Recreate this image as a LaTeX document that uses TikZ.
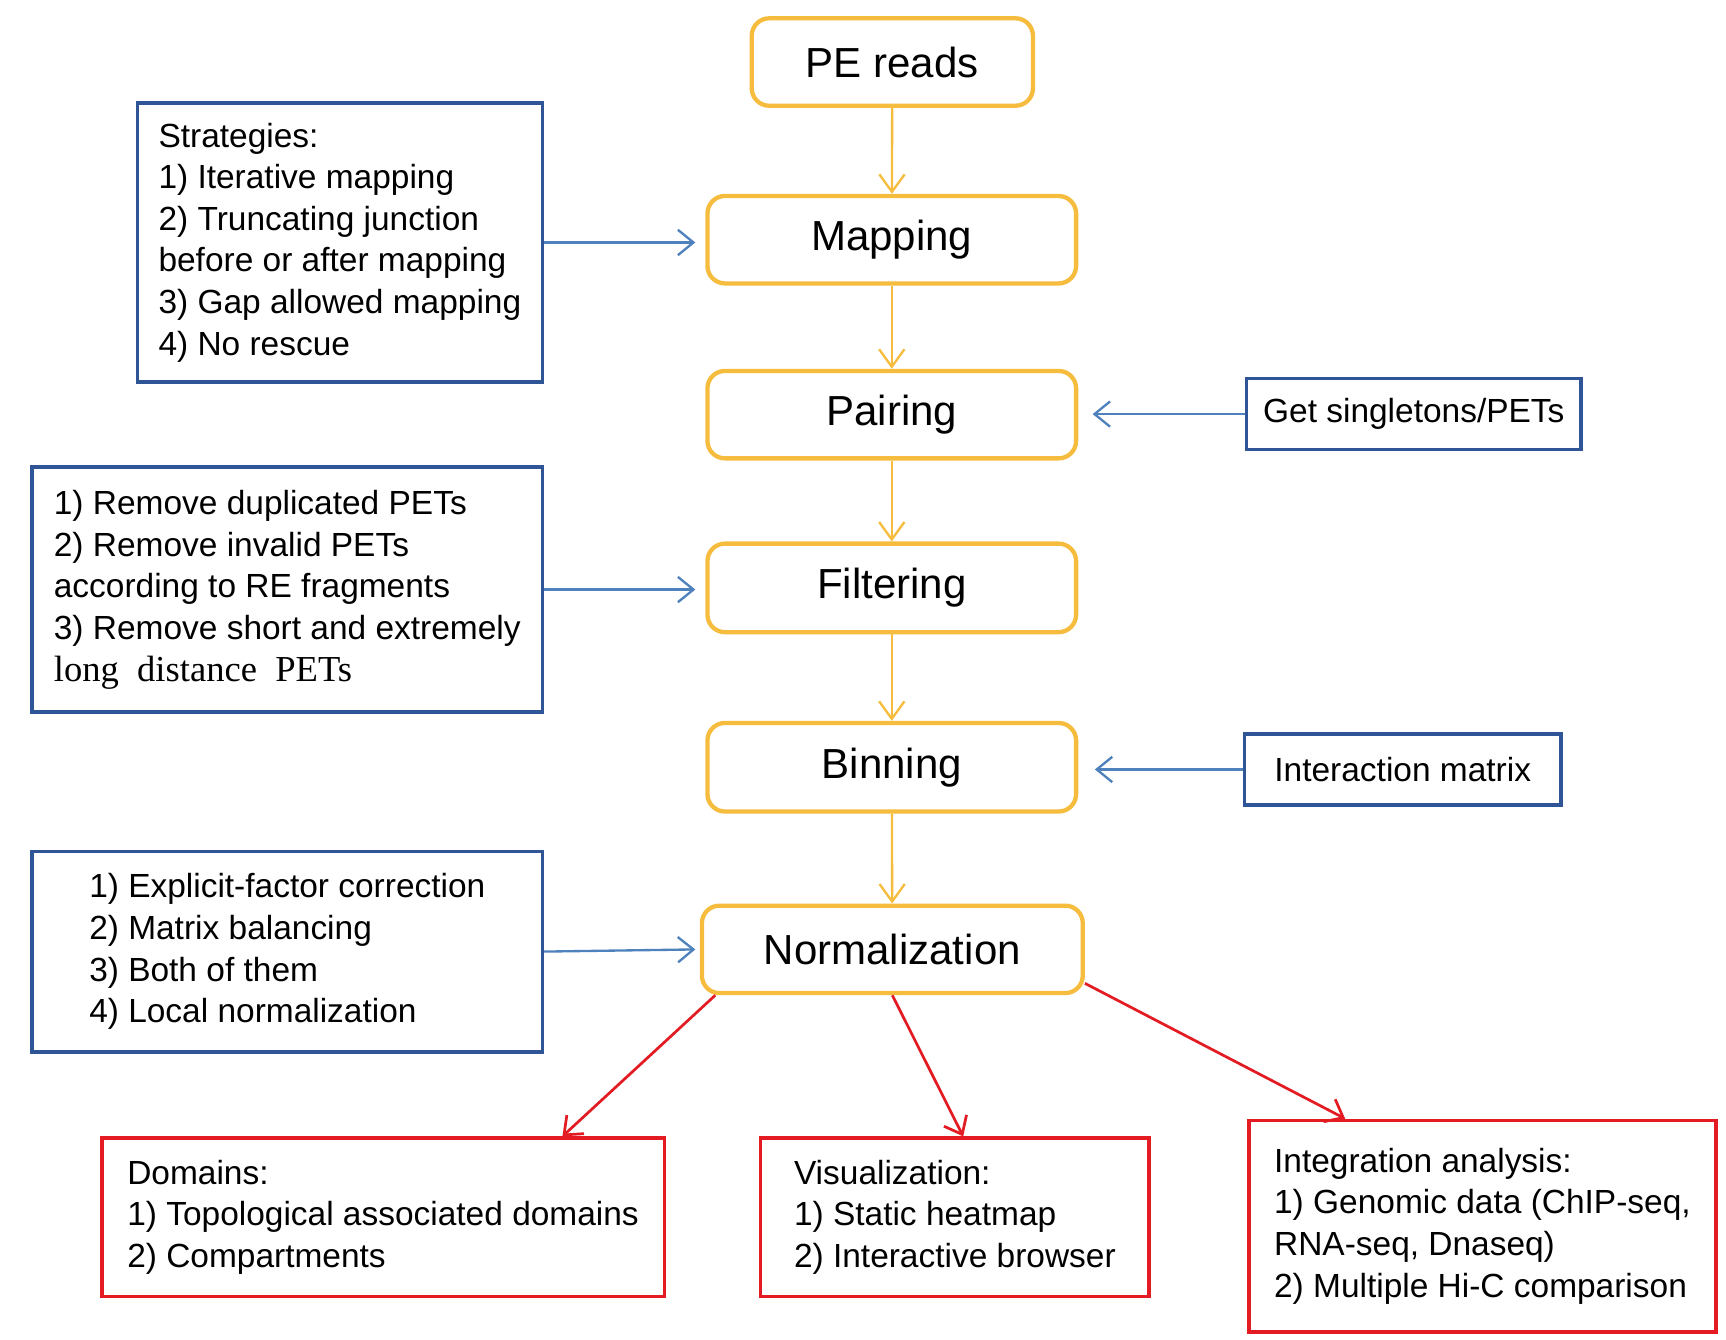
\documentclass[tikz,border=0pt]{standalone}
\usepackage{fontspec}
\setmainfont{Liberation Sans}
\newfontfamily\pairserif{Liberation Serif}
\usetikzlibrary{arrows.meta}

\newlength{\du}
\setlength{\du}{0.1mm}

\definecolor{flowyellow}{RGB}{245,188,62}
\definecolor{notebluebox}{RGB}{47,85,151}
\definecolor{noteblue}{RGB}{79,129,189}
\definecolor{resultred}{RGB}{227,28,36}

\tikzset{
  stepbox/.style={draw=flowyellow, line width=1.1pt, rounded corners=4.5pt,
    inner sep=0pt, font=\fontsize{10.8}{13}\selectfont},
  notebox/.style={draw=notebluebox, line width=0.9pt, inner sep=0pt,
    align=left, font=\fontsize{8.6}{10.7}\selectfont},
  resultbox/.style={draw=resultred, line width=0.9pt, inner sep=0pt,
    align=left, font=\fontsize{8.6}{10.7}\selectfont},
  flowline/.style={draw=flowyellow, line width=0.6pt,
    -{Straight Barb[length=4.5pt,width=6.5pt]}},
  noteline/.style={draw=noteblue, line width=0.6pt,
    -{Straight Barb[length=4pt,width=6.5pt]}},
  resultline/.style={draw=resultred, line width=0.7pt,
    -{Straight Barb[length=4pt,width=6.5pt]}}
}

\begin{document}
\begin{tikzpicture}
\pgftransformxscale{1.000000}
\pgftransformyscale{-1.000000}
\useasboundingbox (0\du,0\du) rectangle (1559\du,1210\du);

% main pipeline
\node[stepbox, minimum width=254\du, minimum height=79\du] (pe) at (806\du,56\du) {PE reads};
\node[stepbox, minimum width=333\du, minimum height=79\du] (map) at (805.5\du,216.5\du) {Mapping};
\node[stepbox, minimum width=333\du, minimum height=79\du] (pair) at (805.5\du,374.5\du) {Pairing};
\node[stepbox, minimum width=333\du, minimum height=80\du] (filter) at (805.5\du,531\du) {Filtering};
\node[stepbox, minimum width=333\du, minimum height=80\du] (bin) at (805.5\du,693\du) {Binning};
\node[stepbox, minimum width=344\du, minimum height=79\du] (norm) at (806\du,857.5\du) {Normalization};

\draw[flowline] (pe) -- (map);
\draw[flowline] (map) -- (pair);
\draw[flowline] (pair) -- (filter);
\draw[flowline] (filter) -- (bin);
\draw[flowline] (bin) -- (norm);

% notes on the sides
\node[notebox, minimum width=366\du, minimum height=252\du] (strat) at (307\du,219\du)
  {Strategies:\\1) Iterative mapping\\2) Truncating junction\\before or after mapping\\3) Gap allowed mapping\\4) No rescue};
\node[notebox, minimum width=461\du, minimum height=221\du] (remove) at (259.5\du,532.5\du)
  {1) Remove duplicated PETs\\2) Remove invalid PETs\\according to RE fragments\\3) Remove short and extremely\\
   {\pairserif\fontsize{9.4}{10.7}\selectfont long\hspace{0.5em}distance\hspace{0.5em}PETs}};
\node[notebox, minimum width=461\du, minimum height=181\du] (expl) at (259.5\du,859.5\du)
  {1) Explicit-factor correction\\2) Matrix balancing\\3) Both of them\\4) Local normalization};
\node[notebox, minimum width=302\du, minimum height=64\du] (single) at (1277\du,374\du) {Get singletons/PETs};
\node[notebox, minimum width=286\du, minimum height=64\du] (inter) at (1267\du,695\du) {Interaction matrix};

\draw[noteline, shorten >=9\du] (strat.east) -- (strat.east -| map.west);
\draw[noteline, shorten >=13\du] (single.west) -- (single.west -| pair.east);
\draw[noteline, shorten >=9\du] (remove.east) -- (remove.east -| filter.west);
\draw[noteline, shorten >=15\du] (inter.west) -- (inter.west -| bin.east);
\draw[noteline, shorten >=4\du] (expl.east) -- (norm.west);

% results
\node[resultbox, minimum width=508\du, minimum height=143\du] (dom) at (346\du,1099.5\du)
  {Domains:\\1) Topological associated domains\\2) Compartments};
\node[resultbox, minimum width=351\du, minimum height=143\du] (vis) at (862.5\du,1099.5\du)
  {Visualization:\\1) Static heatmap\\2) Interactive browser};
\node[resultbox, minimum width=422\du, minimum height=191\du] (integ) at (1339\du,1107.5\du)
  {Integration analysis:\\1) Genomic data (ChIP-seq,\\RNA-seq, Dnaseq)\\2) Multiple Hi-C comparison};

\draw[resultline] ([xshift=14\du]norm.south west) -- ([xshift=162\du]dom.north);
\draw[resultline] (norm.south) -- ([xshift=7.5\du]vis.north);
\draw[resultline] (norm.-10) -- ([xshift=-124\du]integ.north);
\end{tikzpicture}
\end{document}
